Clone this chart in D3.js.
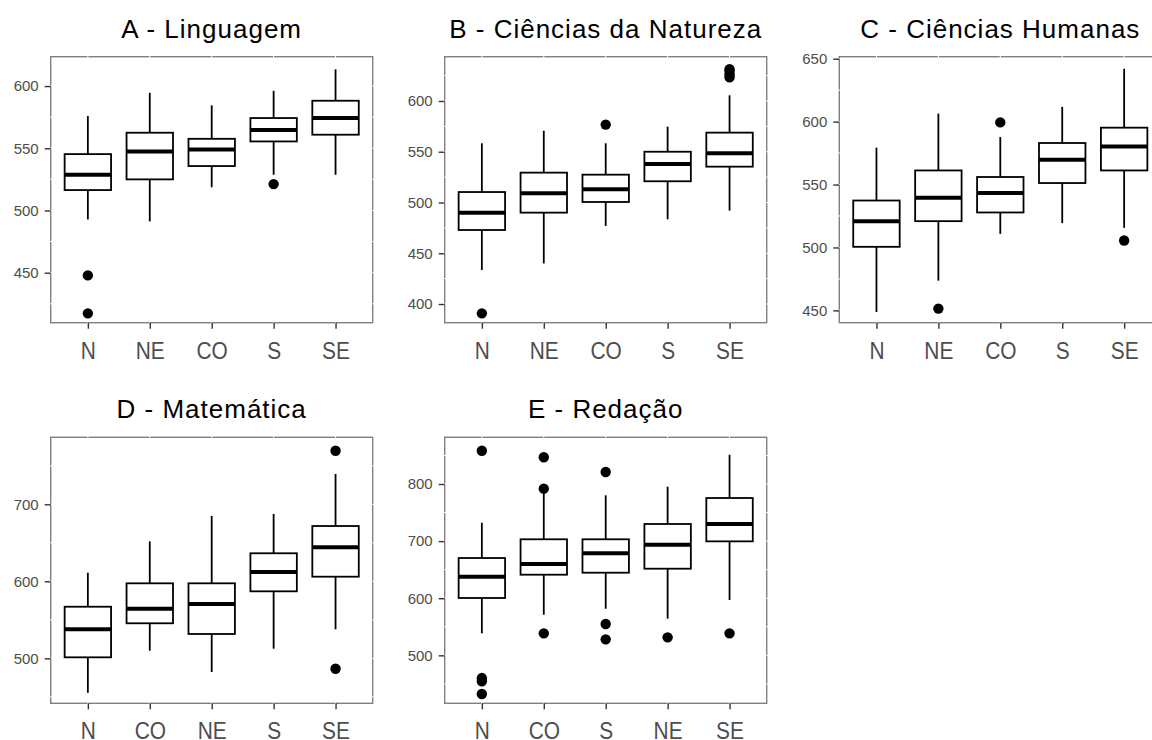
<!DOCTYPE html>
<html>
<head>
  <meta charset="utf-8">
  <script src="https://d3js.org/d3.v7.min.js"></script>
  <style>
    body { margin: 0; background: #fff; }
    svg text { font-family: "Liberation Sans", Arial, sans-serif; }
  </style>
</head>
<body>
<svg id="chart" width="1152" height="740"></svg>
<script>
  // box stats per region: [whisker low, q1, median, q3, whisker high]
  const titleA = "A - Linguagem";
  const regionsA = ["N", "NE", "CO", "S", "SE"];
  const boxesA = [
    [492.8, 516.4, 528.7, 545.3, 575.9],
    [491.2, 525.0, 547.5, 562.5, 594.6],
    [518.6, 535.7, 549.1, 557.6, 584.5],
    [528.7, 555.5, 564.6, 574.3, 596.2],
    [528.7, 560.9, 574.3, 588.2, 613.4]
  ];
  const outliersA = [[447.8, 417.3], [], [], [521.2], []];
  const ticksA = [450, 500, 550, 600];

  const titleB = "B - Ciências da Natureza";
  const regionsB = ["N", "NE", "CO", "S", "SE"];
  const boxesB = [
    [433.5, 472.9, 490.0, 510.3, 558.3],
    [440.0, 490.0, 509.0, 529.4, 570.7],
    [476.9, 500.5, 513.0, 527.4, 558.3],
    [483.5, 520.9, 537.9, 550.0, 574.7],
    [492.0, 535.3, 548.5, 568.8, 605.6]
  ];
  const outliersB = [[390.8], [], [576.7], [], [623.3, 626, 629, 631.2]];
  const ticksB = [400, 450, 500, 550, 600];

  const titleC = "C - Ciências Humanas";
  const regionsC = ["N", "NE", "CO", "S", "SE"];
  const boxesC = [
    [448.7, 500.5, 520.9, 537.3, 579.3],
    [473.6, 520.9, 539.5, 561.2, 606.4],
    [510.8, 527.8, 543.2, 556.0, 587.8],
    [519.3, 551.2, 569.7, 583.0, 611.7],
    [515.6, 561.2, 580.3, 595.2, 642.0]
  ];
  const outliersC = [[], [451.4], [599.4], [], [505.5]];
  const ticksC = [450, 500, 550, 600, 650];

  const titleD = "D - Matemática";
  const regionsD = ["N", "CO", "NE", "S", "SE"];
  const boxesD = [
    [455.3, 501.3, 537.7, 567.0, 611.2],
    [509.9, 545.5, 564.4, 597.4, 651.9],
    [482.2, 531.6, 570.5, 597.4, 684.8],
    [512.5, 587.0, 612.1, 636.4, 687.4],
    [537.7, 606.0, 644.2, 671.8, 739.4]
  ];
  const outliersD = [[], [], [], [], [769.6, 486.5]];
  const ticksD = [500, 600, 700];

  const titleE = "E - Redação";
  const regionsE = ["N", "CO", "S", "NE", "SE"];
  const boxesE = [
    [538.5, 600.4, 637.7, 670.4, 732.2],
    [571.1, 641.2, 659.9, 703.2, 789.0],
    [581.6, 644.7, 678.6, 703.2, 780.2],
    [564.1, 651.7, 693.7, 730.0, 795.3],
    [596.8, 699.6, 730.0, 775.5, 851.3]
  ];
  const outliersE = [[858.3, 460.2, 454.4, 432.2], [846.8, 791.8, 538.5], [821.0, 554.8, 528.0], [531.5], [538.5]];
  const ticksE = [500, 600, 700, 800];

  const svg = d3.select("#chart");

  // panel frames and y ranges
  const panels = [
    { title: titleA, cats: regionsA, boxes: boxesA, outs: outliersA, ticks: ticksA, step: 50,  dom: [409.8, 623.6], x0: 50.7,  y0: 56.7 },
    { title: titleB, cats: regionsB, boxes: boxesB, outs: outliersB, ticks: ticksB, step: 50,  dom: [381.6, 643.6], x0: 444.7, y0: 56.7 },
    { title: titleC, cats: regionsC, boxes: boxesC, outs: outliersC, ticks: ticksC, step: 50,  dom: [440.2, 651.6], x0: 839.3, y0: 56.7 },
    { title: titleD, cats: regionsD, boxes: boxesD, outs: outliersD, ticks: ticksD, step: 100, dom: [441.6, 787.0], x0: 50.7,  y0: 437.3 },
    { title: titleE, cats: regionsE, boxes: boxesE, outs: outliersE, ticks: ticksE, step: 100, dom: [416.0, 881.8], x0: 444.7, y0: 437.3 }
  ];
  const pw = 322, ph = 266;

  panels.forEach(p => {
    const g = svg.append("g").attr("transform", `translate(${p.x0},${p.y0})`);

    const x = d3.scalePoint().domain(p.cats).range([0, pw]).padding(0.6);
    const y = d3.scaleLinear().domain(p.dom).range([ph, 0]);
    const bw = x.step() * 0.75;

    // title
    g.append("text")
      .attr("x", pw / 2)
      .attr("y", -19)
      .attr("text-anchor", "middle")
      .style("font-size", "26px")
      .style("letter-spacing", "1px")
      .style("fill", "#000")
      .text(p.title);

    // border
    g.append("rect")
      .attr("width", pw).attr("height", ph)
      .attr("fill", "#fff")
      .attr("stroke", "#7f7f7f")
      .attr("stroke-width", 1.4);

    // white grid lines (only visible where they cut the border)
    const grid = [];
    p.ticks.forEach(t => { grid.push(t); grid.push(t - p.step / 2); grid.push(t + p.step / 2); });
    const gy = Array.from(new Set(grid)).filter(v => v > p.dom[0] && v < p.dom[1]);
    g.selectAll(".gy").data(gy).enter().append("line")
      .attr("x1", -1).attr("x2", pw + 1)
      .attr("y1", d => y(d)).attr("y2", d => y(d))
      .attr("stroke", "#fff").attr("stroke-width", 1);
    g.selectAll(".gx").data(p.cats).enter().append("line")
      .attr("y1", -1).attr("y2", ph + 1)
      .attr("x1", d => x(d)).attr("x2", d => x(d))
      .attr("stroke", "#fff").attr("stroke-width", 1);

    // axes
    const ya = g.append("g")
      .call(d3.axisLeft(y).tickValues(p.ticks).tickSize(6).tickPadding(6));
    ya.select(".domain").remove();
    ya.selectAll("line").attr("stroke", "#333").attr("stroke-width", 1.4);
    ya.selectAll("text").style("font-size", "15px").attr("fill", "#4d4d4d");

    const xa = g.append("g")
      .attr("transform", `translate(0,${ph})`)
      .call(d3.axisBottom(x).tickSize(6).tickPadding(13));
    xa.select(".domain").remove();
    xa.selectAll("line").attr("stroke", "#333").attr("stroke-width", 1.4);
    xa.selectAll("text")
      .style("font-size", "24px")
      .attr("fill", "#4d4d4d")
      .attr("transform", "scale(0.87,1)");

    // boxes
    const box = g.selectAll(".box").data(p.boxes).enter().append("g")
      .attr("transform", (d, i) => `translate(${x(p.cats[i])},0)`);

    box.append("line")
      .attr("y1", d => y(d[3])).attr("y2", d => y(d[4]))
      .attr("stroke", "#000").attr("stroke-width", 1.8);
    box.append("line")
      .attr("y1", d => y(d[1])).attr("y2", d => y(d[0]))
      .attr("stroke", "#000").attr("stroke-width", 1.8);
    box.append("rect")
      .attr("x", -bw / 2).attr("width", bw)
      .attr("y", d => y(d[3]))
      .attr("height", d => y(d[1]) - y(d[3]))
      .attr("fill", "#fff").attr("stroke", "#000").attr("stroke-width", 1.8);
    box.append("line")
      .attr("x1", -bw / 2).attr("x2", bw / 2)
      .attr("y1", d => y(d[2])).attr("y2", d => y(d[2]))
      .attr("stroke", "#000").attr("stroke-width", 4);

    // outliers
    p.outs.forEach((arr, i) => {
      g.selectAll(null).data(arr).enter().append("circle")
        .attr("cx", x(p.cats[i]))
        .attr("cy", d => y(d))
        .attr("r", 5.2)
        .attr("fill", "#000");
    });
  });
</script>
</body>
</html>
